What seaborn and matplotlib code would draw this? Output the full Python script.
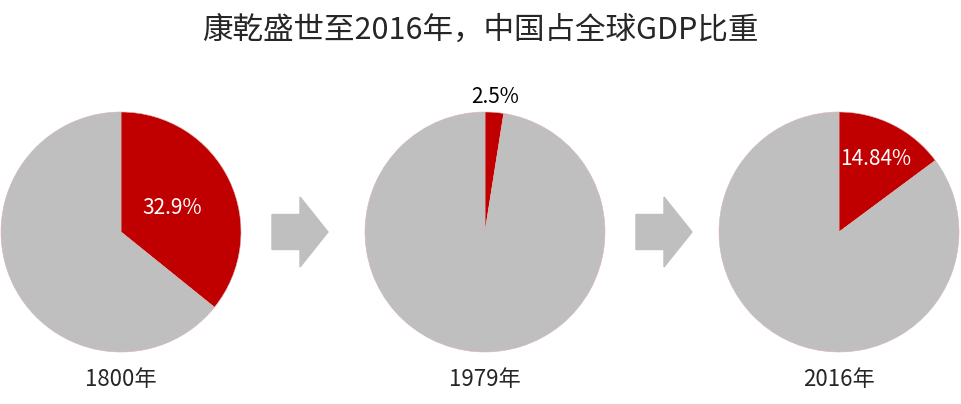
import matplotlib
matplotlib.use("Agg")
import matplotlib.pyplot as plt
import seaborn as sb
import numpy as np
from matplotlib.patches import FancyArrow

# DATA
#-----------------------------------
years = ["1800年", "1979年", "2016年"]
china_share = [32.9, 2.5, 14.84]
rest_share = [59.0, 97.5, 85.16]   # as drawn in the picture
share_labels = ["32.9%", "2.5%", "14.84%"]
title = "康乾盛世至2016年，中国占全球GDP比重"

sb.set_theme(style="white")
plt.rcParams['font.family'] = ['Noto Sans CJK SC', 'DejaVu Sans']

red = "#C00000"
grey = "#BFBFBF"
W, H = 961, 404

fig = plt.figure(figsize=(W / 100, H / 100), dpi=100)

# PIES
#-----------------------------------
centers = [121, 485, 839]
label_dist = [0.47, 1.13, 0.68]
label_color = ["white", "black", "white"]
r_px = 120
for cx, share, rest, lab, dist, lc, yr in zip(centers, china_share, rest_share, share_labels,
                                               label_dist, label_color, years):
    ax = fig.add_axes([(cx - r_px) / W, (H - 232 - r_px) / H, 2 * r_px / W, 2 * r_px / H])
    wedges, _ = ax.pie(
        [share, rest],
        colors=[red, grey],
        startangle=90,
        counterclock=False,
        radius=1,
        wedgeprops=dict(edgecolor="#d8b4b4", linewidth=0.4),
    )
    w = wedges[0]
    mid = np.deg2rad((w.theta1 + w.theta2) / 2)
    ax.text(dist * np.cos(mid), dist * np.sin(mid), lab, ha="center", va="center",
            color=lc, fontsize=15)
    ax.set_xlim(-1, 1)
    ax.set_ylim(-1, 1)
    ax.set_aspect("equal")
    ax.axis("off")
    fig.text(cx / W, 24 / H, yr, ha="center", va="center", fontsize=16)

# ARROWS
#-----------------------------------
for x0 in [272, 636]:
    arr = FancyArrow(x0 / W, (H - 232) / H, 56 / W, 0,
                     width=35 / H, head_width=70 / H, head_length=28 / W,
                     length_includes_head=True, color=grey, transform=fig.transFigure)
    fig.patches.append(arr)

fig.text(0.5, (H - 30) / H, title, ha="center", va="center", fontsize=22)

plt.savefig("out.png", dpi=100)
